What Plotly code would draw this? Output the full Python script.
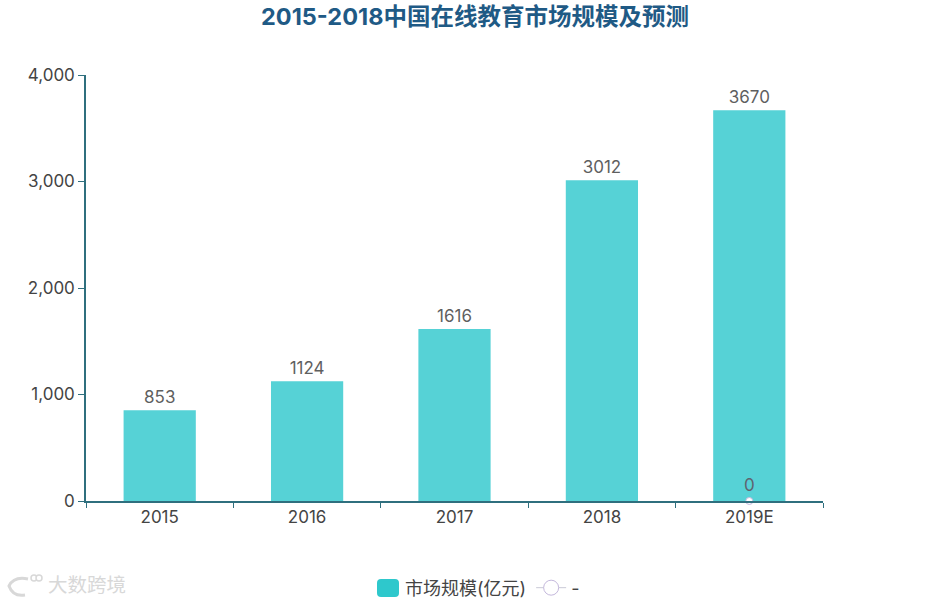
import plotly.graph_objects as go

categories = ["2015", "2016", "2017", "2018", "2019E"]
market_size = [853, 1124, 1616, 3012, 3670]
forecast_cats = ["2019E"]
forecast_vals = [0]
y_ticks = [0, 1000, 2000, 3000, 4000]
y_labels = ["0", "1,000", "2,000", "3,000", "4,000"]
title_text = "2015-2018中国在线教育市场规模及预测"
series_name = "市场规模(亿元)"
watermark = "大数跨境"

FONT = "Inter, 'Noto Sans CJK SC', sans-serif"
AXIS = "#2f6f7e"
TEXT = "#444444"
W, H = 950, 602
L, R, T, B = 86, 127, 75, 101
MARK = "#d8d8d8"


def px(x):
    return (x - L) / (W - L - R)


def py(y):
    return 1 - (y - T) / (H - T - B)


fig = go.Figure()
fig.add_trace(go.Bar(
    x=categories, y=market_size, name=series_name, width=0.49, showlegend=False,
    marker=dict(color="#56d2d6", line=dict(width=0)),
    text=[str(v) for v in market_size], textposition="outside", cliponaxis=False,
    textfont=dict(size=17, color="#5f5f5f", family=FONT),
))
fig.add_trace(go.Bar(x=[None], y=[None], name=series_name,
                     marker=dict(color="#2ec8cc", line=dict(width=0))))
fig.add_trace(go.Scatter(
    x=forecast_cats, y=forecast_vals, name="-", mode="lines+markers+text", showlegend=False,
    line=dict(color="#c9c9d6", width=1),
    marker=dict(size=7, color="white", line=dict(color="#c4b8dc", width=1)),
    text=[str(v) for v in forecast_vals], textposition="top center", cliponaxis=False,
    textfont=dict(size=17, color="#5f6470", family=FONT),
))
fig.add_trace(go.Scatter(
    x=[None], y=[None], name="-", mode="lines+markers",
    line=dict(color="#c9c9d6", width=1),
    marker=dict(size=15, color="white", line=dict(color="#c4b8dc", width=1)),
))
fig.update_layout(
    width=W, height=H, autosize=False, barmode="overlay",
    margin=dict(l=L, r=R, t=T, b=B),
    paper_bgcolor="white", plot_bgcolor="white",
    font=dict(family=FONT, color=TEXT),
    title=dict(text=title_text, x=0.5, xanchor="center", y=0.972, yanchor="middle",
               font=dict(size=23.5, color="#1f5a85", family=FONT, weight="bold")),
    xaxis=dict(type="category", categoryorder="array", categoryarray=categories,
               tickson="boundaries", ticks="outside", ticklen=5, tickwidth=1, tickcolor=AXIS,
               showline=True, linecolor=AXIS, linewidth=1.5, showgrid=False, zeroline=False,
               tickfont=dict(size=17, color=TEXT), range=[-0.5, 4.5]),
    yaxis=dict(range=[0, 4000], tickvals=y_ticks, ticktext=y_labels,
               ticks="outside", ticklen=6, tickwidth=1, tickcolor=AXIS,
               showline=True, linecolor=AXIS, linewidth=1.5, showgrid=False, zeroline=False,
               tickfont=dict(size=17, color=TEXT)),
    legend=dict(orientation="h", x=0.5, xanchor="center", xref="container",
                y=0.0233, yref="container", yanchor="middle", bgcolor="rgba(0,0,0,0)",
                font=dict(size=18, color=TEXT), itemwidth=30, traceorder="normal"),
    showlegend=True,
    annotations=[dict(text=watermark, xref="paper", yref="paper", x=px(46), y=py(585),
                      xanchor="left", yanchor="middle", showarrow=False,
                      font=dict(size=19.5, color=MARK))],
)
# rounded legend swatch behind the legend's own square
sx0, sx1, sy0, sy1 = 377, 399, 579, 597
r = 4
corners = [(sx0 + r, sy0), (sx1 - r, sy0), (sx1, sy0), (sx1, sy0 + r), (sx1, sy1 - r), (sx1, sy1),
           (sx1 - r, sy1), (sx0 + r, sy1), (sx0, sy1), (sx0, sy1 - r), (sx0, sy0 + r), (sx0, sy0),
           (sx0 + r, sy0)]
c = [f"{px(a):.5f},{py(b):.5f}" for a, b in corners]
fig.add_shape(type="path", xref="paper", yref="paper", layer="below", line=dict(width=0),
              fillcolor="#2ec8cc",
              path=(f"M{c[0]}L{c[1]}Q{c[2]} {c[3]}L{c[4]}Q{c[5]} {c[6]}L{c[7]}"
                    f"Q{c[8]} {c[9]}L{c[10]}Q{c[11]} {c[12]}Z"))
# watermark logo
arc = [(28, 579), (14, 576), (9, 586), (13, 597), (25, 595)]
a = [f"{px(p):.5f},{py(q):.5f}" for p, q in arc]
fig.add_shape(type="path", xref="paper", yref="paper", layer="below",
              line=dict(color=MARK, width=3),
              path=f"M{a[0]}Q{a[1]} {a[2]}Q{a[3]} {a[4]}")
for cx in (34, 39):
    fig.add_shape(type="circle", xref="paper", yref="paper", layer="below",
                  line=dict(color=MARK, width=1.5), fillcolor="white",
                  x0=px(cx - 3), x1=px(cx + 3), y0=py(581), y1=py(575))
fig.write_html("out.html", post_script="document.body.style.margin='0';",
               config=dict(displayModeBar=False))
